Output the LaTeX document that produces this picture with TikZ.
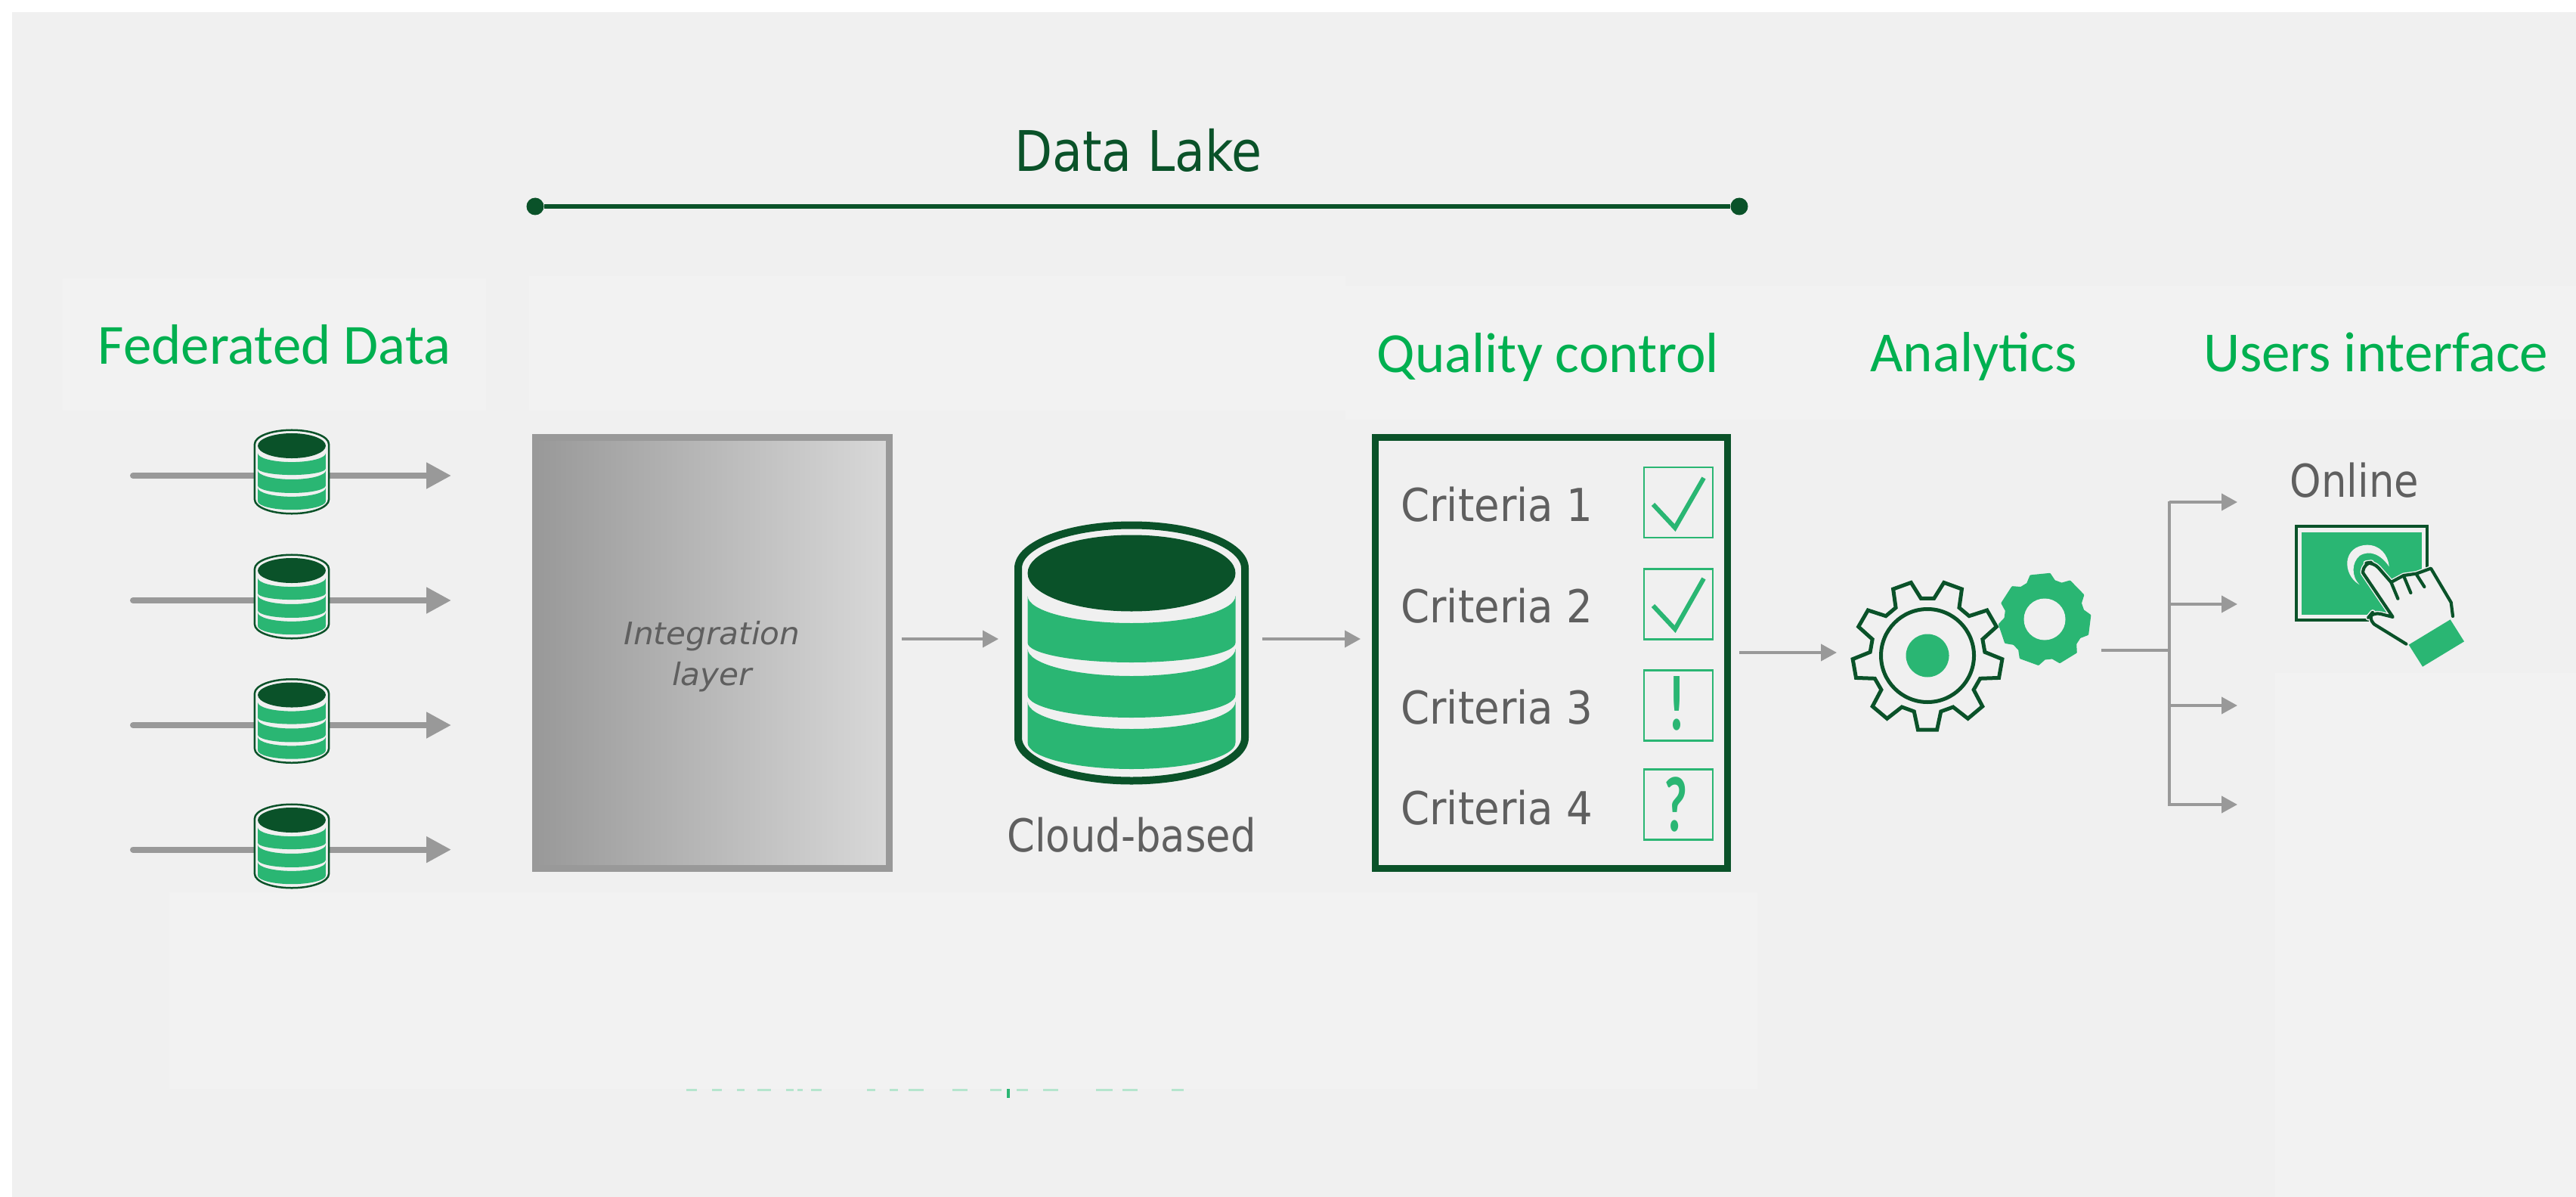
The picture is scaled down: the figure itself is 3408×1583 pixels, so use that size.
\documentclass[tikz,border=0pt]{standalone}
\usepackage{fontspec}
\usetikzlibrary{arrows.meta,calc}
\setmainfont{DejaVu Sans}
\newfontfamily\greyfont[FakeStretch=0.88]{DejaVu Sans}
\newfontfamily\critfont[FakeStretch=0.91]{DejaVu Sans}
\newfontfamily\integfont[FakeStretch=1.03]{DejaVu Sans}
\newfontfamily\headfont{Carlito}
\newfontfamily\signfont[FakeStretch=0.65]{Carlito}
\definecolor{panelbg}{HTML}{F0F0F0}
\definecolor{patchbg}{HTML}{F2F2F2}
\definecolor{dkgreen}{HTML}{0A5229}
\definecolor{mdgreen}{HTML}{2AB673}
\definecolor{hdgreen}{HTML}{00B050}
\definecolor{arrgrey}{HTML}{999999}
\definecolor{txtgrey}{HTML}{5F5F5F}
\tikzset{
  patchbox/.style={fill=patchbg,draw=none},
  headlabel/.style={anchor=base,inner sep=0pt,text=hdgreen,font=\headfont\fontsize{37.5}{44}\selectfont},
  greylabel/.style={inner sep=0pt,text=txtgrey,font=\greyfont\fontsize{30}{36}\selectfont},
  critlabel/.style={inner sep=0pt,text=txtgrey,anchor=base west,font=\critfont\fontsize{30}{36}\selectfont},
  signlabel/.style={anchor=base,inner sep=0pt,text=mdgreen,font=\signfont\bfseries\fontsize{52}{60}\selectfont},
  checkbox/.style={draw=mdgreen,line width=1.25pt,minimum width=45.5pt,minimum height=46.5pt,inner sep=0pt},
  checkmark/.style={draw=mdgreen,line width=3pt,line join=miter},
  thickarrow/.style={draw=arrgrey,line width=4pt,line cap=round,-{Triangle[length=16.5pt,width=16.5pt]}},
  thinarrow/.style={draw=arrgrey,line width=2pt,-{Triangle[length=10.5pt,width=11pt]}},
  trunkline/.style={draw=arrgrey,line width=2pt},
  phantomnode/.style={inner sep=0pt,outer sep=0pt},
  handline/.style={draw=dkgreen,line width=2.1pt,line join=round,line cap=round},
}
\newcommand{\dbcyl}[4]{%
  \begin{scope}[shift={(#1,#2)},x=0.5pt,y=0.5pt,scale=#3]
    \draw[draw=dkgreen,line width=#4,fill=panelbg]
      (-150,112) arc[start angle=180,end angle=0,x radius=150,y radius=57]
      -- (150,-112) arc[start angle=0,end angle=-180,x radius=150,y radius=57] -- cycle;
    \fill[dkgreen] (0,105.5) ellipse[x radius=137.5,y radius=50.5];
    \foreach \yt/\rt/\yb/\rb in {75.5/36/13.5/26,5.5/36/-55.5/30,-64.5/36/-118.5/35}{
      \fill[mdgreen] (-137.5,\yt) arc[start angle=180,end angle=360,x radius=137.5,y radius=\rt]
        -- (137.5,\yb) arc[start angle=0,end angle=-180,x radius=137.5,y radius=\rb] -- cycle;
    }
  \end{scope}}
\def\handpath{(550,515) -- (425,438) [rounded corners=5pt] -- (398,412) -- (418,388) [rounded corners=0pt] -- (497,408) -- (378,232) [rounded corners=5pt] -- (382,195) -- (420,190) [rounded corners=0pt] -- (490,270) -- (540,243) -- (590,236) -- (648,215) -- (728,350) -- (735,405)}
\begin{document}
\begin{tikzpicture}[x=0.5pt,y=-0.5pt]
\useasboundingbox (0,0) rectangle (3408,1583);
\fill[white] (0,0) rectangle (3408,1583);
\fill[panelbg] (16,16) rectangle (3408,1583);
% faint patches
\fill[patchbox] (83,368) rectangle (643,543);
\fill[patchbox] (700,365) rectangle (1780,543);
\fill[patchbox] (1780,378) rectangle (3408,555);
\fill[patchbox] (224,1180) rectangle (2325,1440);
\fill[patchbox] (3010,890) rectangle (3408,1583);
% clipped remnant strokes at the foot of the lower patch
\foreach \xa/\xb in {908/922,942/955,975/985,1002/1020,1040/1050,1055/1062,1073/1087,1147/1158,1177/1188,1202/1222,1260/1280,1310/1325,1345/1360,1380/1400,1450/1472,1485/1505,1550/1566}{
  \fill[mdgreen!35] (\xa,1440) rectangle (\xb,1443);
}
\fill[mdgreen] (1332,1440) rectangle (1336,1452);
% title
\node[inner sep=0pt,anchor=base,text=dkgreen,font=\greyfont\fontsize{37}{44}\selectfont] (lake) at (1506,227) {Data Lake};
\node[circle,fill=dkgreen,minimum size=11.5pt,inner sep=0pt] (lakeA) at (708,273) {};
\node[circle,fill=dkgreen,minimum size=11.5pt,inner sep=0pt] (lakeB) at (2301,273) {};
\draw[dkgreen,line width=3pt] (lakeA) -- (lakeB);
% headings
\node[headlabel] (hFed) at (363,481) {Federated Data};
\node[headlabel] (hQual) at (2048,492) {Quality control};
\node[headlabel] (hAna) at (2611,491) {Analytics};
\node[headlabel] (hUser) at (3143,491) {Users interface};
% federated sources
\foreach \i/\yc/\ya in {1/624/629,2/789/794,3/953.5/959,4/1119/1123.6}{
  \coordinate (sA\i) at (176,\ya);
  \coordinate (sB\i) at (597,\ya);
  \draw[thickarrow] (sA\i) -- (sB\i);
  \dbcyl{386}{\yc}{0.327}{1.25pt}
  \node[phantomnode,minimum width=51pt,minimum height=57pt] (db\i) at (386,\yc) {};
}
% integration layer
\node[draw=arrgrey,line width=4.5pt,left color=arrgrey,right color=black!15,minimum width=234pt,minimum height=285pt,inner sep=0pt] (integ) at (942.5,863.5) {};
\node[inner sep=0pt,anchor=base,text=txtgrey,font=\integfont\itshape\fontsize{20.5}{27}\selectfont] (integA) at (942,852.5) {Integration};
\node[inner sep=0pt,anchor=base,text=txtgrey,font=\integfont\itshape\fontsize{20.5}{27}\selectfont] (integB) at (942,906) {layer};
% cloud store
\dbcyl{1497}{863.5}{1}{5pt}
\node[phantomnode,minimum width=156pt,minimum height=174.5pt] (cloud) at (1497,863.5) {};
\node[greylabel,anchor=base] (cloudT) at (1497,1126) {Cloud-based};
% quality control
\node[draw=dkgreen,line width=4.5pt,minimum width=233pt,minimum height=285pt,inner sep=0pt] (crit) at (2052.5,863.5) {};
\node[critlabel] (c1) at (1853,689) {Criteria 1};
\node[critlabel] (c2) at (1853,823) {Criteria 2};
\node[critlabel] (c3) at (1853,957.5) {Criteria 3};
\node[critlabel] (c4) at (1853,1090.5) {Criteria 4};
\node[checkbox] (b1) at (2220.5,664.5) {};
\node[checkbox] (b2) at (2220.5,799) {};
\node[checkbox] (b3) at (2220.5,933) {};
\node[checkbox] (b4) at (2220.5,1064) {};
\draw[checkmark] (2187,667) -- (2216,698) -- (2254,632);
\draw[checkmark] (2187,801) -- (2216,832) -- (2254,765);
\node[signlabel] (s3) at (2218,965.5) {!};
\node[signlabel] (s4) at (2217,1099.5) {?};
% connectors between stages
\coordinate (rowA) at (0,845);
\coordinate (rowB) at (0,863);
\coordinate (rowC) at (0,860);
% gears
\begin{scope}[shift={(2550,867)},x=0.5pt,y=0.5pt]
  \draw[dkgreen,line width=2.5pt,line join=miter]
    ({-90-13.5}:76) \foreach \t in {0,40,...,320}{
      -- ({-90+\t-13.5}:76) -- ({-90+\t-7.3}:99) -- ({-90+\t+7.3}:99) -- ({-90+\t+13.5}:76)
    } -- cycle;
  \draw[dkgreen,line width=2.5pt] (0,0) circle[radius=61.5];
  \fill[mdgreen] (0,0) circle[radius=28.5];
\end{scope}
\node[phantomnode,minimum size=102pt] (gearA) at (2550,867) {};
\begin{scope}[shift={(2705,819)},x=0.5pt,y=0.5pt]
  \fill[mdgreen,draw=mdgreen,line width=1.5pt,line join=round,even odd rule]
    ({-110-20}:52) \foreach \t in {0,51.43,...,310}{
      -- ({-110+\t-20}:52) -- ({-110+\t-12}:60) -- ({-110+\t+12}:60) -- ({-110+\t+20}:52)
    } -- cycle;
  \fill[panelbg] (0,0) circle[radius=27.5];
\end{scope}
\node[phantomnode,minimum size=62pt] (gearB) at (2705,819) {};
\draw[thinarrow,shorten <=6pt,shorten >=10pt] (integ.east |- rowA) -- (cloud.west |- rowA);
\draw[thinarrow,shorten <=8.5pt,shorten >=7.5pt] (cloud.east |- rowA) -- (crit.west |- rowA);
\draw[thinarrow,shorten <=5.5pt,shorten >=9pt] (crit.east |- rowB) -- (gearA.west |- rowB);
% fan-out
\coordinate (tTop) at (2870,662.5);
\coordinate (tBot) at (2870,1065.5);
\draw[arrgrey,line width=2.2pt,shorten <=6.5pt] (gearB.east |- rowC) -- (tTop |- rowC);
\draw[trunkline] (tTop) -- (tBot);
\foreach \i/\yb in {1/664,2/799,3/933,4/1064}{
  \coordinate (oS\i) at (2870,\yb);
  \coordinate (oE\i) at (2960,\yb);
  \draw[thinarrow] (oS\i) -- (oE\i);
}
% online
\node[greylabel,anchor=base] (online) at (3115,657) {Online};
\node[draw=dkgreen,line width=2pt,fill=panelbg,minimum width=86.5pt,minimum height=62pt,inner sep=0pt] (screen) at (3124.5,758) {};
\begin{scope}[shift={(3000,680)},x=0.16667pt,y=-0.16667pt]
  \fill[mdgreen] (135,72) rectangle (612,400);
  \fill[panelbg] (365,280) .. controls (295,240) and (295,125) .. (395,122)
     .. controls (445,122) and (478,160) .. (482,208)
     .. controls (450,160) and (405,140) .. (365,165)
     .. controls (335,190) and (330,245) .. (365,280) -- cycle;
  \fill[panelbg] \handpath;
  \draw[panelbg,line width=3.5pt,line join=round] \handpath;
  \draw[handline] \handpath;
  \draw[handline] (490,270) -- (517,335);
  \draw[handline] (540,245) -- (568,312);
  \draw[handline] (590,238) -- (622,288);
  \fill[mdgreen] (725,418) -- (780,505) -- (615,605) -- (560,518) -- cycle;
\end{scope}
\end{tikzpicture}
\end{document}
